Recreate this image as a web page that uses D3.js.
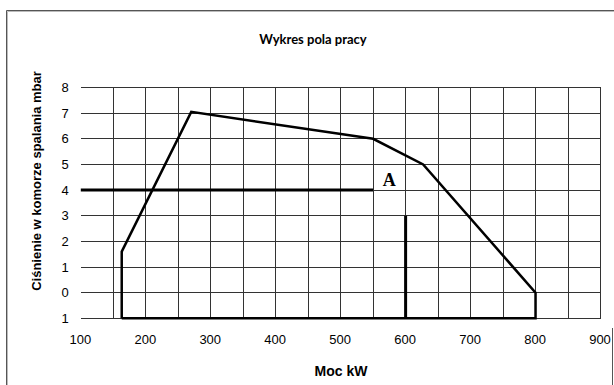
<!DOCTYPE html>
<html>
<head>
<meta charset="utf-8">
<script src="https://cdn.jsdelivr.net/npm/d3@7"></script>
<style>
  html, body { margin: 0; padding: 0; background: #fff; }
  svg { display: block; }
</style>
</head>
<body>
<svg id="chart" width="614" height="385"></svg>
<script>
// Working field of the burner: power (kW) vs. combustion chamber pressure (mbar)
const xTicks = [100, 200, 300, 400, 500, 600, 700, 800, 900];
const xGrid = [150, 200, 250, 300, 350, 400, 450, 500, 550, 600, 650, 700, 750, 800, 850, 900];
const yTicks = [8, 7, 6, 5, 4, 3, 2, 1, 0, -1];
const yTickLabels = ["8", "7", "6", "5", "4", "3", "2", "1", "0", "1"];

// Outline of the operating range
const fieldPower =    [163, 163, 270, 550, 627, 800, 800, 163];
const fieldPressure = [-1, 1.6, 7.05, 6, 5, 0, -1, -1];

// Reading example: point A
const refLinePower = [100, 550];
const refLinePressure = [4, 4];
const refDropPower = [600, 600];
const refDropPressure = [3, -1];
const pointLabel = { text: "A", power: 575, pressure: 4.15 };

const svg = d3.select("#chart");

const x = d3.scaleLinear().domain([100, 900]).range([80.8, 600.5]);
const y = d3.scaleLinear().domain([-1, 8]).range([318.3, 87.5]);

// Outer frame
const frame = svg.append("g");
frame.append("line").attr("x1", 6.5).attr("x2", 614).attr("y1", 10.5).attr("y2", 10.5)
  .attr("stroke", "#555").attr("stroke-width", 1);
frame.append("line").attr("x1", 7.5).attr("x2", 614).attr("y1", 11.5).attr("y2", 11.5)
  .attr("stroke", "#bbb").attr("stroke-width", 1);
frame.append("line").attr("x1", 6.5).attr("x2", 6.5).attr("y1", 10.5).attr("y2", 385)
  .attr("stroke", "#555").attr("stroke-width", 1);
frame.append("line").attr("x1", 7.5).attr("x2", 7.5).attr("y1", 11.5).attr("y2", 385)
  .attr("stroke", "#bbb").attr("stroke-width", 1);
frame.append("line").attr("x1", 612.5).attr("x2", 612.5).attr("y1", 328).attr("y2", 385)
  .attr("stroke", "#555").attr("stroke-width", 1);

// Grid
const grid = svg.append("g").attr("shape-rendering", "crispEdges");
grid.selectAll("line.h").data(yTicks).join("line")
  .attr("class", "h")
  .attr("x1", x(100)).attr("x2", x(900))
  .attr("y1", d => y(d)).attr("y2", d => y(d))
  .attr("stroke", "#333").attr("stroke-width", 1);
grid.selectAll("line.v").data(xGrid).join("line")
  .attr("class", "v")
  .attr("x1", d => x(d)).attr("x2", d => x(d))
  .attr("y1", y(8)).attr("y2", y(-1))
  .attr("stroke", "#333").attr("stroke-width", 1);

// Axes (labels only)
const xAxis = d3.axisBottom(x).tickValues(xTicks).tickSize(0).tickPadding(16.5)
  .tickFormat(d3.format("d"));
const gx = svg.append("g").attr("transform", `translate(-1,${y(-1)})`).call(xAxis);
gx.select(".domain").remove();
gx.selectAll("text").attr("font-family", "Arial, 'Liberation Sans', sans-serif")
  .attr("font-size", 13).attr("fill", "#000");

const yAxis = d3.axisLeft(y).tickValues(yTicks).tickSize(0).tickPadding(12)
  .tickFormat((d, i) => yTickLabels[i]);
const gy = svg.append("g").attr("transform", `translate(${x(100)},0)`).call(yAxis);
gy.select(".domain").remove();
gy.selectAll("text").attr("font-family", "Arial, 'Liberation Sans', sans-serif")
  .attr("font-size", 13).attr("fill", "#000");

// Operating field outline
const line = d3.line().x(d => x(d[0])).y(d => y(d[1]));
svg.append("path")
  .datum(d3.zip(fieldPower, fieldPressure))
  .attr("d", line)
  .attr("fill", "none").attr("stroke", "#000")
  .attr("stroke-width", 2.5).attr("stroke-linejoin", "miter");

// Reference lines for point A
svg.append("path")
  .datum(d3.zip(refLinePower, refLinePressure))
  .attr("d", line)
  .attr("fill", "none").attr("stroke", "#000").attr("stroke-width", 3);
svg.append("path")
  .datum(d3.zip(refDropPower, refDropPressure))
  .attr("d", line)
  .attr("fill", "none").attr("stroke", "#000").attr("stroke-width", 3);

svg.append("text")
  .attr("x", x(pointLabel.power)).attr("y", y(pointLabel.pressure))
  .attr("text-anchor", "middle")
  .attr("font-family", "'Liberation Serif', 'Times New Roman', serif")
  .attr("font-weight", "bold").attr("font-size", 18).attr("fill", "#000")
  .text(pointLabel.text);

// Titles
svg.append("text")
  .attr("x", 313).attr("y", 44)
  .attr("text-anchor", "middle")
  .attr("font-family", "Lato, 'Open Sans', sans-serif")
  .attr("font-weight", "bold").attr("font-size", 13).attr("fill", "#000")
  .text("Wykres pola pracy");

svg.append("text")
  .attr("x", 341).attr("y", 376)
  .attr("text-anchor", "middle")
  .attr("font-family", "Arial, 'Liberation Sans', sans-serif")
  .attr("font-weight", "bold").attr("font-size", 14).attr("fill", "#000")
  .text("Moc kW");

svg.append("text")
  .attr("transform", "translate(41,181) rotate(-90)")
  .attr("text-anchor", "middle")
  .attr("font-family", "Arial, 'Liberation Sans', sans-serif")
  .attr("font-weight", "bold").attr("font-size", 13).attr("fill", "#000")
  .text("Ciśnienie w komorze spalania mbar");
</script>
</body>
</html>
